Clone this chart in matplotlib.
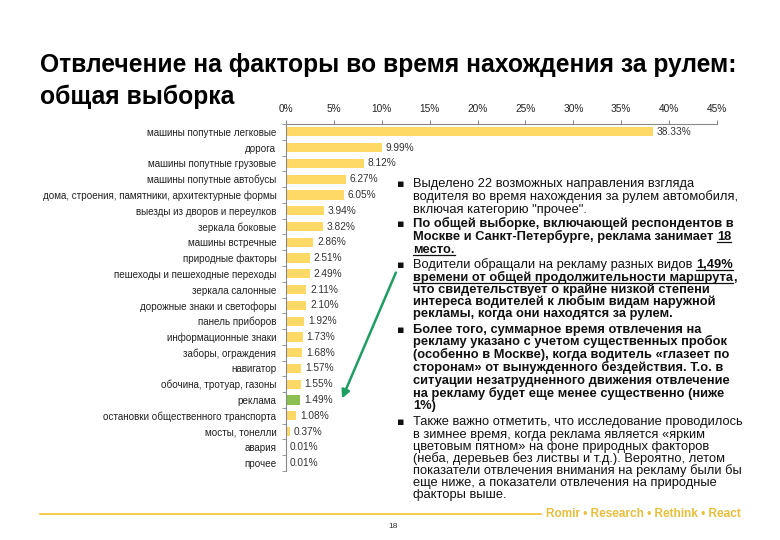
import matplotlib
matplotlib.use("Agg")
import matplotlib.pyplot as plt
from matplotlib.lines import Line2D
from matplotlib.patches import FancyArrowPatch

plt.rcParams['font.family'] = ['Liberation Sans', 'DejaVu Sans']

categories = [
    "машины попутные легковые", "дорога", "машины попутные грузовые",
    "машины попутные автобусы", "дома, строения, памятники, архитектурные формы",
    "выезды из дворов и переулков", "зеркала боковые", "машины встречные",
    "природные факторы", "пешеходы и пешеходные переходы", "зеркала салонные",
    "дорожные знаки и светофоры", "панель приборов", "информационные знаки",
    "заборы, ограждения", "навигатор", "обочина, тротуар, газоны", "реклама",
    "остановки общественного транспорта", "мосты, тонелли", "авария", "прочее",
]
values = [38.33, 9.99, 8.12, 6.27, 6.05, 3.94, 3.82, 2.86, 2.51, 2.49, 2.11,
          2.10, 1.92, 1.73, 1.68, 1.57, 1.55, 1.49, 1.08, 0.37, 0.01, 0.01]
x_ticks = [0, 5, 10, 15, 20, 25, 30, 35, 40, 45]
highlight = "реклама"

W, H = 780, 540
fig = plt.figure(figsize=(7.8, 5.4), dpi=100)


def px(x, y):
    return x / W, 1 - y / H


# chart area
ax = fig.add_axes([286 / W, 1 - 471 / H, (717 - 286) / W, (471 - 124) / H])
colors = ["#8CC152" if c == highlight else "#FFD966" for c in categories]
ypos = list(range(len(categories)))
ax.barh(ypos, values, height=0.58, color=colors, edgecolor="none")
ax.set_ylim(len(categories) - 0.5, -0.5)
ax.set_xlim(0, 45)
ax.set_yticks(ypos)
ax.set_yticklabels(categories, fontsize=7.1, color="#222222")
ax.tick_params(axis="y", length=0, pad=7)
ax.set_yticks([i - 0.5 for i in range(len(categories) + 1)], minor=True)
ax.tick_params(axis="y", which="minor", length=3, color="#888888", direction="out")
ax.xaxis.tick_top()
ax.set_xticks(x_ticks)
ax.set_xticklabels([f"{t}%" for t in x_ticks], fontsize=7.3, color="#222222")
ax.tick_params(axis="x", length=3, color="#888888", direction="out", pad=4)
for s in ["right", "bottom"]:
    ax.spines[s].set_visible(False)
for s in ["top", "left"]:
    ax.spines[s].set_color("#888888")
    ax.spines[s].set_linewidth(0.8)
for i, v in enumerate(values):
    ax.text(v + 0.4, i, f"{v:.2f}%", va="center", ha="left", fontsize=7.3,
            color="#333333")

# title
fig.text(*px(40, 65), "Отвлечение на факторы во время нахождения за рулем:",
         fontsize=17.7, fontweight="bold", va="center", ha="left")
fig.text(*px(40, 97), "общая выборка", fontsize=17.7, fontweight="bold",
         va="center", ha="left")

# right-hand text
fig.canvas.draw()
renderer = fig.canvas.get_renderer()
FS = 9.3


def width_of(s, bold):
    t = fig.text(0, 0, s, fontsize=FS, fontweight="bold" if bold else "normal")
    w = t.get_window_extent(renderer).width
    t.remove()
    return w


space_w = width_of("x x", False) - width_of("xx", False)
space_wb = width_of("x x", True) - width_of("xx", True)

# each line: list of (text, bold, underline)
lines = [
    (183, [("Выделено 22 возможных направления взгляда", False, False)]),
    (196, [("водителя во время нахождения за рулем автомобиля,", False, False)]),
    (209, [("включая категорию \"прочее\".", False, False)]),
    (223, [("По общей выборке, включающей респондентов в", True, False)]),
    (236, [("Москве и Санкт-Петербурге, реклама занимает", True, False), ("18", True, True)]),
    (249, [("место.", True, True)]),
    (264, [("Водители обращали на рекламу разных видов", False, False), ("1,49%", True, True)]),
    (277, [("времени от общей продолжительности маршрута", True, True), (",", True, False)]),
    (289, [("что свидетельствует о крайне низкой степени", True, False)]),
    (301, [("интереса водителей к любым видам наружной", True, False)]),
    (313, [("рекламы, когда они находятся за рулем.", True, False)]),
    (329, [("Более того, суммарное время отвлечения на", True, False)]),
    (341, [("рекламу указано с учетом существенных пробок", True, False)]),
    (354, [("(особенно в Москве), когда водитель «глазеет по", True, False)]),
    (367, [("сторонам» от вынужденного бездействия. Т.о. в", True, False)]),
    (380, [("ситуации незатрудненного движения отвлечение", True, False)]),
    (393, [("на рекламу будет еще менее существенно (ниже", True, False)]),
    (405, [("1%)", True, False)]),
    (421, [("Также важно отметить, что исследование проводилось", False, False)]),
    (434, [("в зимнее время, когда реклама является «ярким", False, False)]),
    (446, [("цветовым пятном» на фоне природных факторов", False, False)]),
    (458, [("(неба, деревьев без листвы и т.д.). Вероятно, летом", False, False)]),
    (470, [("показатели отвлечения внимания на рекламу были бы", False, False)]),
    (482, [("еще ниже, а показатели отвлечения на природные", False, False)]),
    (494, [("факторы выше.", False, False)]),
]
bullet_rows = [183, 223, 264, 329, 421]

for y, segs in lines:
    x = 413
    base_y = y + 4
    for k, (s, bold, ul) in enumerate(segs):
        if k > 0 and s not in (",",):
            x += space_wb if bold else space_w
        t = fig.text(*px(x, base_y), s, fontsize=FS,
                     fontweight="bold" if bold else "normal",
                     va="baseline", ha="left", color="#111111")
        ext = t.get_window_extent(renderer)
        if ul:
            fig.add_artist(Line2D([x / W, (x + ext.width) / W],
                                  [1 - (base_y + 2) / H] * 2,
                                  color="#111111", lw=0.9))
        x += ext.width

for y in bullet_rows:
    fig.text(*px(397, y + 1), "▪", fontsize=8, family="DejaVu Sans",
             va="center", ha="left", color="#111111")

# green arrow
arrow = FancyArrowPatch(px(397, 270), px(341, 401), transform=fig.transFigure,
                        arrowstyle="-|>", mutation_scale=12, color="#1E9E62",
                        lw=1.8)
fig.add_artist(arrow)

# footer
fig.add_artist(Line2D([40 / W, 541 / W], [1 - 514 / H] * 2, color="#F2C230", lw=1.2))
fig.text(*px(546, 514), "Romir • Research • Rethink • React", fontsize=8.5,
         fontweight="bold", color="#E8BE3A", va="center", ha="left")
fig.text(*px(393, 526), "18", fontsize=6, color="#333333", va="center", ha="center")

fig.savefig("out.png", dpi=100)
